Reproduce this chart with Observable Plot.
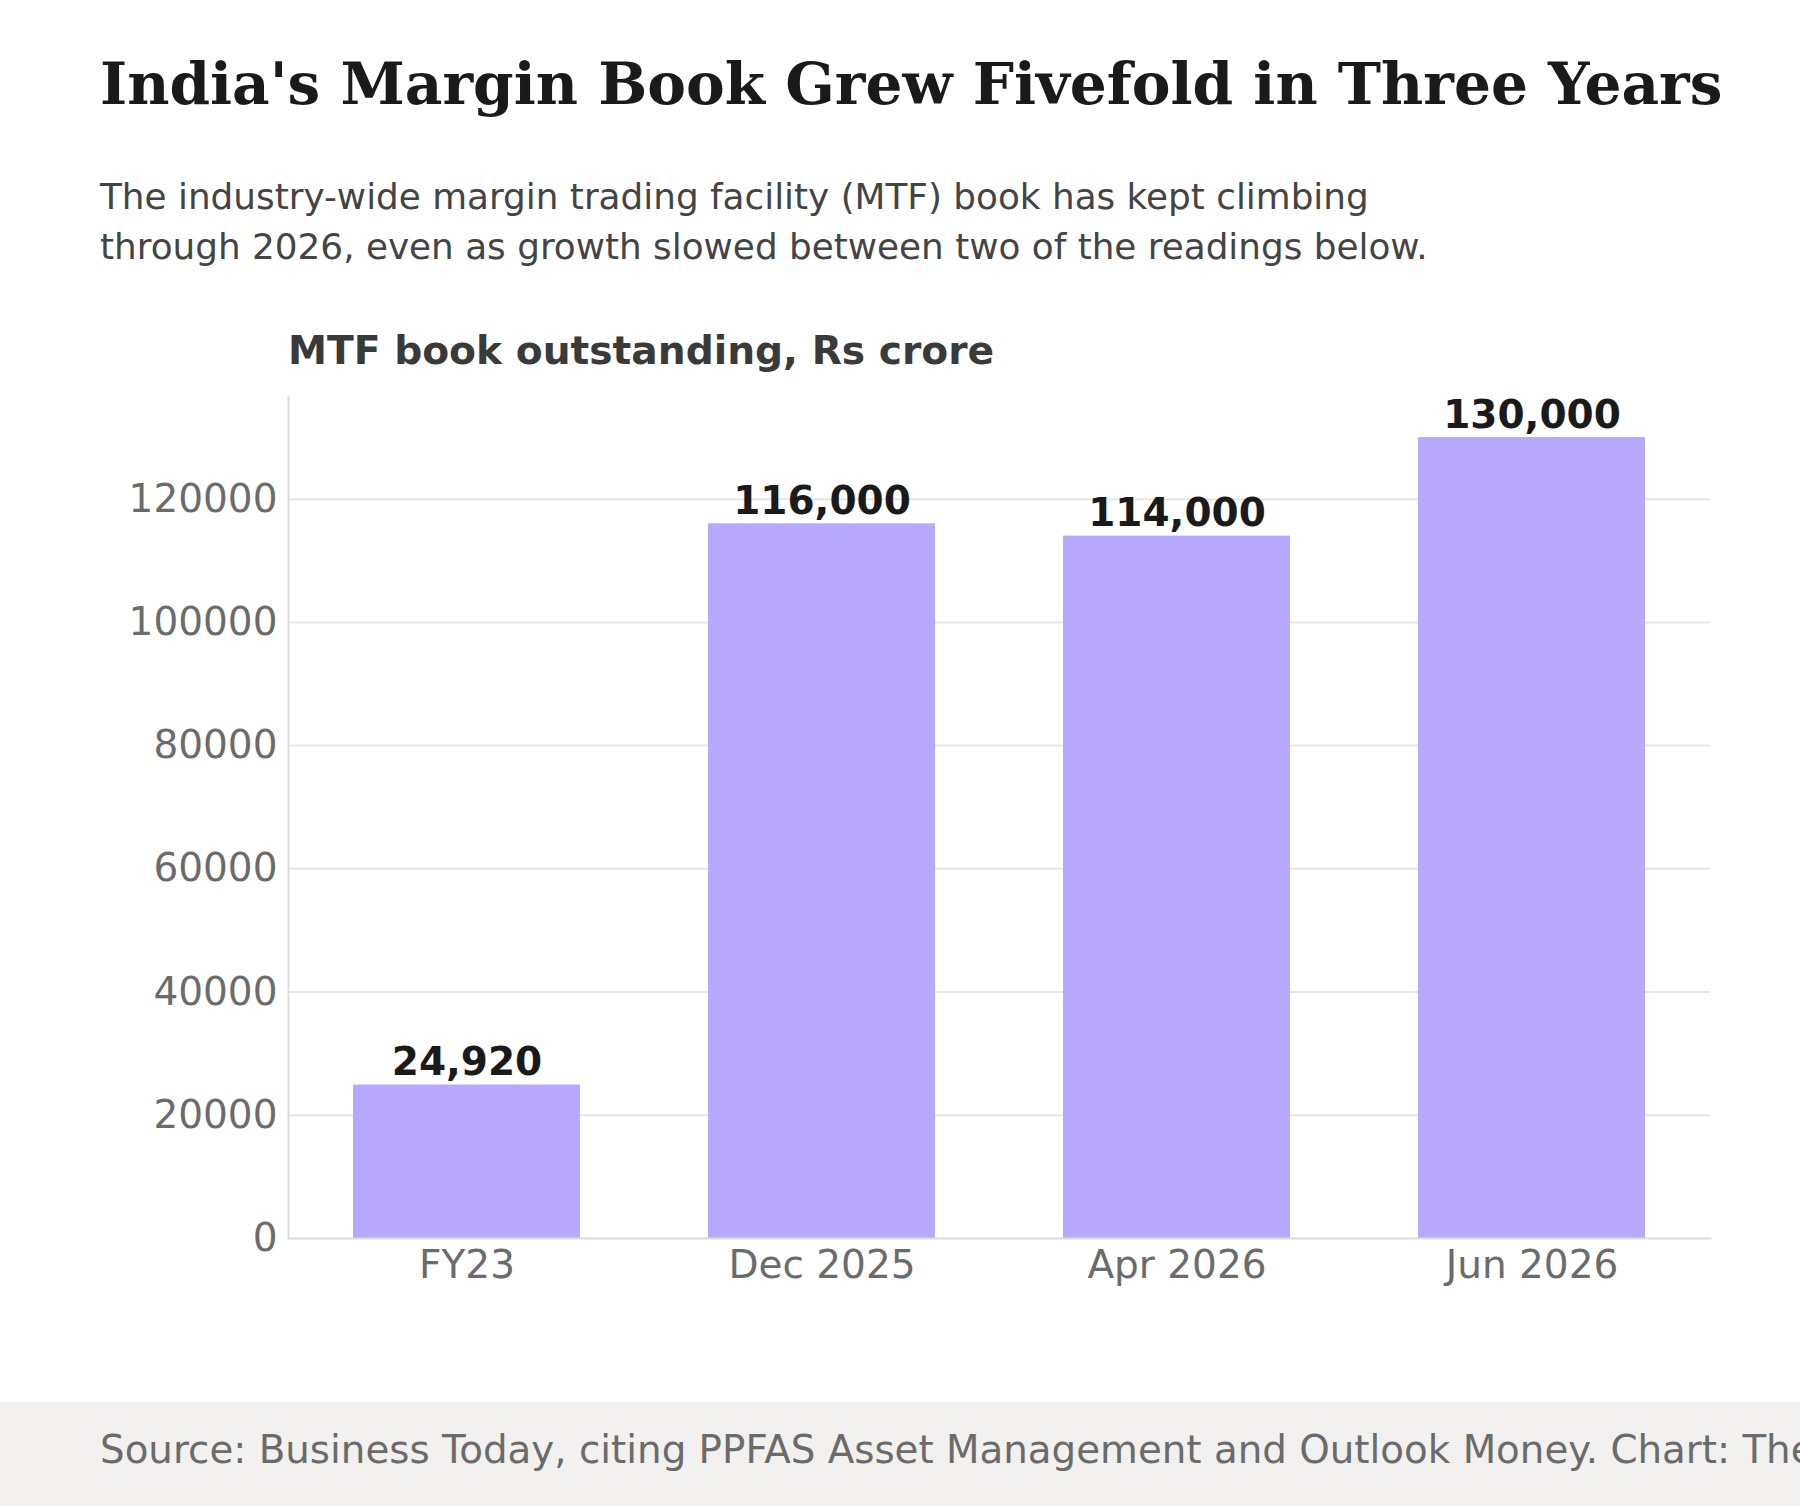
<!DOCTYPE html>
<html>
<head>
<meta charset="utf-8">
<script src="https://cdn.jsdelivr.net/npm/d3@7"></script>
<script src="https://cdn.jsdelivr.net/npm/@observablehq/plot@0.6"></script>
<style>
  html, body { margin: 0; padding: 0; background: #ffffff; }
  body { width: 1800px; height: 1506px; position: relative; overflow: hidden; font-family: "DejaVu Sans", sans-serif; }
  .title { position: absolute; left: 100px; top: 55px; margin: 0; font-family: "DejaVu Serif", serif; font-weight: bold; font-size: 58.1px; line-height: 58px; color: #1a1a1a; white-space: nowrap; }
  .subtitle { position: absolute; left: 100px; top: 172px; width: 1380px; margin: 0; font-size: 35.8px; line-height: 50px; color: #444444; }
  .chart-label { position: absolute; left: 288px; top: 331px; margin: 0; font-weight: bold; font-size: 39.2px; line-height: 39px; color: #3a3a3a; white-space: nowrap; }
  #chart { position: absolute; left: 0; top: 380px; }
  .footer { position: absolute; left: 0; top: 1402px; width: 1800px; height: 104px; background: #f2f1ef; overflow: hidden; }
  .footer p { position: absolute; left: 100px; top: 29px; margin: 0; font-size: 38.8px; line-height: 38px; color: #6b6b6b; white-space: nowrap; }
</style>
</head>
<body>
<h1 class="title">India's Margin Book Grew Fivefold in Three Years</h1>
<p class="subtitle">The industry-wide margin trading facility (MTF) book has kept climbing through 2026, even as growth slowed between two of the readings below.</p>
<p class="chart-label">MTF book outstanding, Rs crore</p>
<div id="chart"></div>
<div class="footer"><p>Source: Business Today, citing PPFAS Asset Management and Outlook Money. Chart: The Brief</p></div>
<script>
// Reporting dates and MTF book outstanding (Rs crore)
const periods = ["FY23", "Dec 2025", "Apr 2026", "Jun 2026"];
const bookValues = [24920, 116000, 114000, 130000];
const yTicks = [0, 20000, 40000, 60000, 80000, 100000, 120000];

const rows = periods.map((period, i) => ({period, value: bookValues[i]}));
const yMax = d3.max(bookValues) * 1.05;

const chart = Plot.plot({
  width: 1800,
  height: 933,
  marginLeft: 288,
  marginRight: 90,
  marginTop: 17,
  marginBottom: 75,
  style: {fontFamily: "DejaVu Sans, sans-serif", background: "transparent", overflow: "visible"},
  x: {domain: periods, paddingInner: 0.36, paddingOuter: 0.18, label: null},
  y: {domain: [0, yMax], label: null},
  marks: [
    Plot.ruleY(yTicks.filter(d => d > 0), {stroke: "#e8e7e3", strokeWidth: 2}),
    Plot.barY(rows, {x: "period", y: "value", fill: "#b8a9fe"}),
    Plot.text(rows, {
      x: "period", y: "value", text: d => d3.format(",")(d.value),
      lineAnchor: "bottom", dy: -10, fontSize: 39, fontWeight: "bold", fill: "#1a1a1a"
    }),
    Plot.frame({anchor: "left", stroke: "#dcdcd6", strokeWidth: 2}),
    Plot.frame({anchor: "bottom", stroke: "#dcdcd6", strokeWidth: 2}),
    Plot.axisY(yTicks, {tickSize: 0, tickPadding: 11, fontSize: 39, fill: "#6b6b6b", label: null, tickFormat: d => String(d)}),
    Plot.axisX({tickSize: 0, tickPadding: 12, fontSize: 39, fill: "#6b6b6b", label: null})
  ]
});
document.getElementById("chart").appendChild(chart);
</script>
</body>
</html>
